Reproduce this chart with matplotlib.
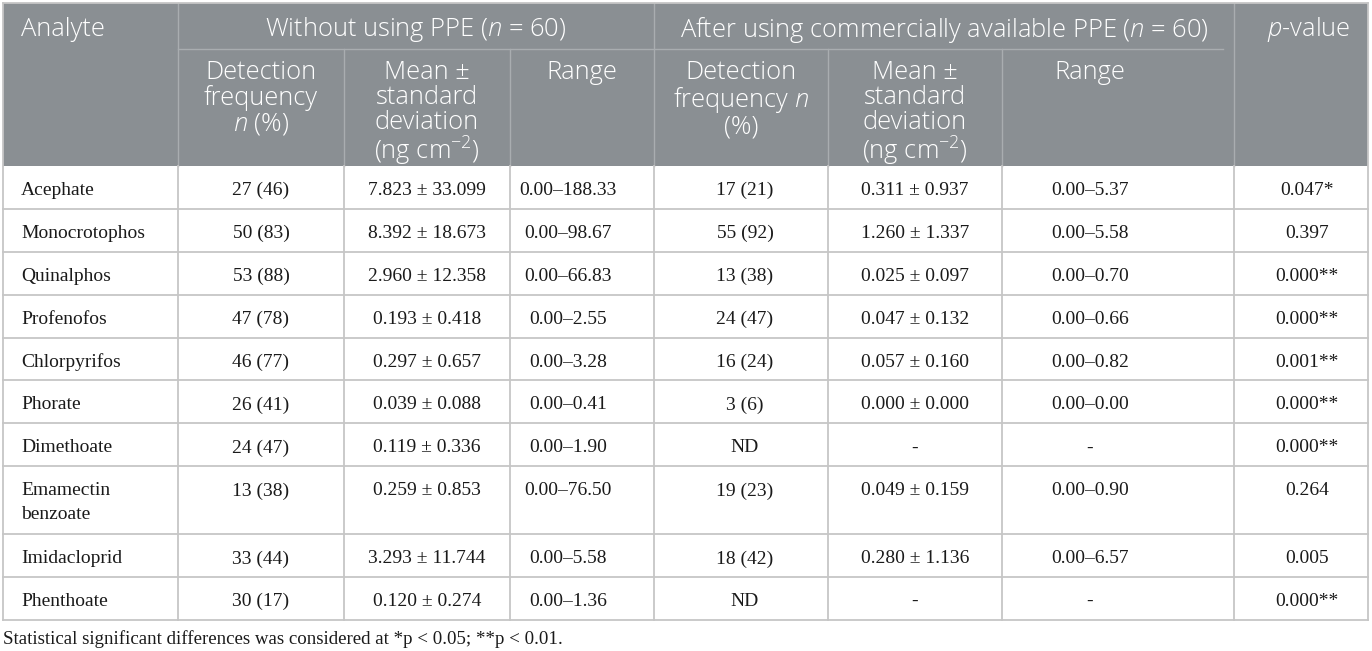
import matplotlib
matplotlib.use('Agg')
import matplotlib.pyplot as plt
from matplotlib.patches import Rectangle

plt.rcParams['mathtext.fontset'] = 'custom'
plt.rcParams['mathtext.rm'] = 'Open Sans:light'
plt.rcParams['mathtext.it'] = 'Open Sans:italic:light'

# 表格数据
analytes = ['Acephate', 'Monocrotophos', 'Quinalphos', 'Profenofos', 'Chlorpyrifos',
            'Phorate', 'Dimethoate', 'Emamectin\nbenzoate', 'Imidacloprid', 'Phenthoate']
det_before = ['27 (46)', '50 (83)', '53 (88)', '47 (78)', '46 (77)',
              '26 (41)', '24 (47)', '13 (38)', '33 (44)', '30 (17)']
mean_before = ['7.823 ± 33.099', '8.392 ± 18.673', '2.960 ± 12.358', '0.193 ± 0.418',
               '0.297 ± 0.657', '0.039 ± 0.088', '0.119 ± 0.336', '0.259 ± 0.853',
               '3.293 ± 11.744', '0.120 ± 0.274']
range_before = ['0.00–188.33', '0.00–98.67', '0.00–66.83', '0.00–2.55', '0.00–3.28',
                '0.00–0.41', '0.00–1.90', '0.00–76.50', '0.00–5.58', '0.00–1.36']
det_after = ['17 (21)', '55 (92)', '13 (38)', '24 (47)', '16 (24)',
             '3 (6)', 'ND', '19 (23)', '18 (42)', 'ND']
mean_after = ['0.311 ± 0.937', '1.260 ± 1.337', '0.025 ± 0.097', '0.047 ± 0.132',
              '0.057 ± 0.160', '0.000 ± 0.000', '-', '0.049 ± 0.159',
              '0.280 ± 1.136', '-']
range_after = ['0.00–5.37', '0.00–5.58', '0.00–0.70', '0.00–0.66', '0.00–0.82',
               '0.00–0.00', '-', '0.00–0.90', '0.00–6.57', '-']
p_values = ['0.047*', '0.397', '0.000**', '0.000**', '0.001**',
            '0.000**', '0.000**', '0.264', '0.005', '0.000**']

group_headers = ['Without using PPE ($n$ = 60)',
                 'After using commercially available PPE ($n$ = 60)']
sub_headers = ['Detection\nfrequency\n$n$ (%)',
               'Mean ±\nstandard\ndeviation\n(ng cm$^{-2}$)',
               'Range',
               'Detection\nfrequency $n$\n(%)',
               'Mean ±\nstandard\ndeviation\n(ng cm$^{-2}$)',
               'Range']
footnote = 'Statistical significant differences was considered at *p < 0.05; **p < 0.01.'

# 版式
W, H = 1372, 651
LEFT, TOP = 3, 3
col_widths = [175, 166, 166, 144, 174, 174, 232, 134]
col_shift = [0, 0, 0, -14, 4, 0, -28, 6]
head1_h, head_h = 46, 163
line_h, row_pad = 42.9, 25

HEAD_BG = '#8a8f93'
HEAD_LINE = '#a9adb0'
GRID = '#c6c6c6'
SANS = 'Open Sans'
SERIF = 'Liberation Serif'


def edges():
    """列边界"""
    xs = [LEFT]
    for w in col_widths:
        xs.append(xs[-1] + w)
    return xs


def draw_header(ax, xs):
    """表头"""
    y0, y1, y2 = TOP, TOP + head1_h, TOP + head_h
    ax.add_patch(Rectangle((xs[0], y0), xs[-1] - xs[0], y2 - y0,
                           facecolor=HEAD_BG, edgecolor='none', zorder=1))
    ax.plot([xs[1], xs[7] - 11], [y1, y1], color=HEAD_LINE, lw=1, zorder=2)
    for i in (1, 4, 7):
        ax.plot([xs[i], xs[i]], [y0, y2], color=HEAD_LINE, lw=1, zorder=2)
    for i in (2, 3, 5, 6):
        ax.plot([xs[i], xs[i]], [y1, y2], color=HEAD_LINE, lw=1, zorder=2)

    kw = dict(color='white', fontsize=18.4, family=SANS, weight='light', zorder=3)
    ymid = y0 + 27
    ax.text(xs[0] + 18, ymid, 'Analyte', ha='left', va='center', **kw)
    ax.text((xs[1] + xs[4]) / 2, ymid, group_headers[0], ha='center', va='center', **kw)
    ax.text((xs[4] + xs[7]) / 2, ymid, group_headers[1], ha='center', va='center', **kw)
    ax.text((xs[7] + xs[8]) / 2 + 8, ymid, '$p$-value', ha='center', va='center', **kw)
    for j, label in enumerate(sub_headers):
        c = j + 1
        x = (xs[c] + xs[c + 1]) / 2
        if c == 6:
            x += col_shift[c]
        ax.text(x, y1 + 11, label, ha='center', va='top', linespacing=1.0, **kw)


def draw_body(ax, xs):
    """表体"""
    cols = [analytes, det_before, mean_before, range_before,
            det_after, mean_after, range_after, p_values]
    y = TOP + head_h
    for r in range(len(analytes)):
        n_lines = analytes[r].count('\n') + 1
        h = line_h + row_pad * (n_lines - 1)
        for c, col in enumerate(cols):
            if c == 0:
                x, ha = xs[0] + 18, 'left'
            else:
                x, ha = (xs[c] + xs[c + 1]) / 2 + col_shift[c], 'center'
            ax.text(x, y + 16, col[r], ha=ha, va='top', fontsize=14,
                    family=SERIF, color='#1a1a1a', linespacing=1.5, zorder=3)
        y += h
        ax.plot([xs[0], xs[-1]], [y, y], color=GRID, lw=1.3, zorder=2)
    bottom = y
    for x in xs[1:-1]:
        ax.plot([x, x], [TOP + head_h, bottom], color=GRID, lw=1.3, zorder=2)
    for x in (xs[0], xs[-1]):
        ax.plot([x, x], [TOP, bottom], color=GRID, lw=1.3, zorder=2)
    ax.plot([xs[0], xs[-1]], [TOP, TOP], color=GRID, lw=1.3, zorder=2)
    return bottom


def main():
    fig = plt.figure(figsize=(W / 100, H / 100), dpi=100)
    ax = fig.add_axes([0, 0, 1, 1])
    ax.set_xlim(0, W)
    ax.set_ylim(H, 0)
    ax.axis('off')
    xs = edges()
    draw_header(ax, xs)
    bottom = draw_body(ax, xs)
    ax.text(xs[0], bottom + 19, footnote, ha='left', va='center', fontsize=13.6,
            family=SERIF, color='#1a1a1a')
    fig.savefig('out.png', dpi=100, facecolor='white')


if __name__ == '__main__':
    main()
